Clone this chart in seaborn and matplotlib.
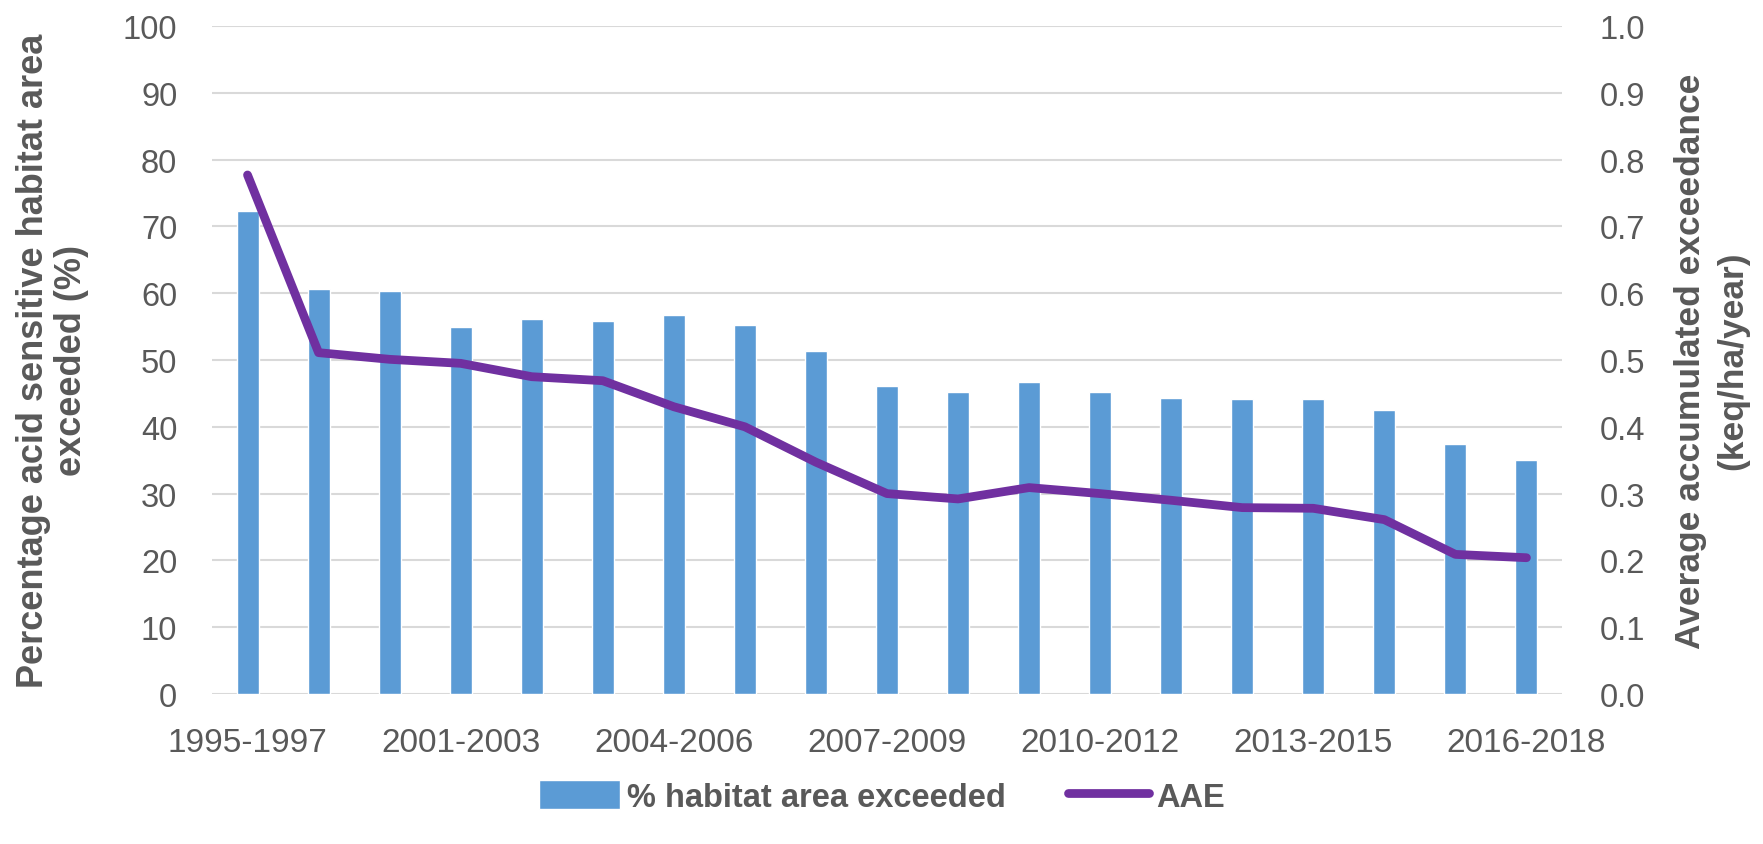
import numpy as np
import matplotlib
matplotlib.use("Agg")
import matplotlib.pyplot as plt
import seaborn as sns

periods = [
    "1995-1997", "1998-2000", "1999-2001", "2001-2003", "2002-2004",
    "2003-2005", "2004-2006", "2005-2007", "2006-2008", "2007-2009",
    "2008-2010", "2009-2011", "2010-2012", "2011-2013", "2012-2014",
    "2013-2015", "2014-2016", "2015-2017", "2016-2018",
]
pct_exceeded = [72.3, 60.6, 60.3, 54.9, 56.1, 55.8, 56.7, 55.2, 51.3, 46.1,
                45.2, 46.7, 45.2, 44.3, 44.1, 44.1, 42.5, 37.4, 35.0]
aae = [0.777, 0.511, 0.501, 0.495, 0.475, 0.469, 0.430, 0.400, 0.347, 0.300,
       0.292, 0.309, 0.300, 0.290, 0.279, 0.278, 0.261, 0.209, 0.204]

bar_color = "#5B9BD5"
line_color = "#7030A0"
text_color = "#595959"
grid_color = "#D9D9D9"

sns.set_style("white")
plt.rcParams["font.family"] = ["Liberation Sans", "DejaVu Sans"]

fig = plt.figure(figsize=(17.63, 8.45), dpi=100)
ax = fig.add_axes([212 / 1763, 1 - 695 / 845, 1350 / 1763, 668 / 845])

sns.barplot(x=periods, y=pct_exceeded, color=bar_color, saturation=1,
            width=0.31, ax=ax, label="% habitat area exceeded", zorder=2)
ax.set_ylim(0, 100)
ax.set_yticks(range(0, 101, 10))
ax.set_xlim(-0.5, len(periods) - 0.5)
ax.set_axisbelow(True)
ax.yaxis.grid(True, color=grid_color, linewidth=1.5)
for s in ax.spines.values():
    s.set_visible(False)
ax.set_xticks(range(0, len(periods), 3))
ax.set_xticklabels(periods[::3])
ax.tick_params(axis="x", length=0, pad=24, labelsize=24, labelcolor=text_color)
ax.tick_params(axis="y", length=0, pad=25, labelsize=23.5, labelcolor=text_color)
ax.set_xlabel("")
ax.set_ylabel("Percentage acid sensitive habitat area\nexceeded (%)",
              fontsize=26, fontweight="bold", color=text_color, linespacing=1.1)
ax.yaxis.set_label_coords(-0.091, 0.5)

ax2 = ax.twinx()
sns.lineplot(x=np.arange(len(periods)), y=aae, color=line_color, linewidth=6.3,
             ax=ax2, label="AAE", solid_capstyle="round")
ax2.set_ylim(0, 1)
ax2.set_yticks(np.arange(0, 1.01, 0.1))
ax2.set_yticklabels([f"{v:.1f}" for v in np.arange(0, 1.01, 0.1)])
ax2.grid(False)
for s in ax2.spines.values():
    s.set_visible(False)
ax2.tick_params(axis="y", length=0, pad=27, labelsize=23.5, labelcolor=text_color)
ax2.set_ylabel("Average accumulated exceedance\n(keq/ha/year)",
               fontsize=25.5, fontweight="bold", color=text_color, linespacing=1.35,
               rotation=90)
ax2.yaxis.set_label_coords(1.083, 0.5)
ax2.set_xlim(-0.5, len(periods) - 0.5)

h1, l1 = ax.get_legend_handles_labels()
h2, l2 = ax2.get_legend_handles_labels()
if ax2.get_legend():
    ax2.get_legend().remove()
if ax.get_legend():
    ax.get_legend().remove()
leg = fig.legend(h1 + h2, l1 + l2, loc="center", bbox_to_anchor=(0.5, 0.056),
                 ncol=2, frameon=False, handlelength=2.5, handleheight=1.0,
                 columnspacing=1.9, handletextpad=0.2,
                 prop={"size": 23.5, "weight": "bold"})
for t in leg.get_texts():
    t.set_color(text_color)

fig.savefig("out.png", dpi=100)
